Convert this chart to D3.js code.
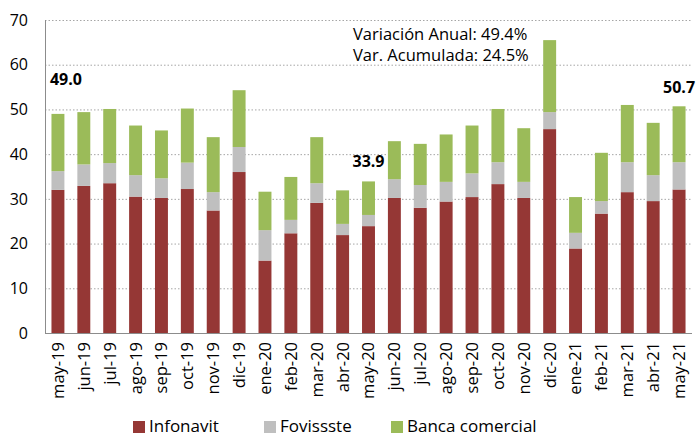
<!DOCTYPE html>
<html>
<head>
<meta charset="utf-8">
<script src="https://cdn.jsdelivr.net/npm/d3@7"></script>
<style>
  body { margin: 0; background: #fff; }
  text { font-family: "Open Sans", sans-serif; fill: #000; }
</style>
</head>
<body>
<div id="chart"></div>
<script>
const months = ["may-19","jun-19","jul-19","ago-19","sep-19","oct-19","nov-19","dic-19",
  "ene-20","feb-20","mar-20","abr-20","may-20","jun-20","jul-20","ago-20","sep-20","oct-20",
  "nov-20","dic-20","ene-21","feb-21","mar-21","abr-21","may-21"];
const infonavit = [32.0,32.9,33.5,30.5,30.2,32.2,27.4,36.0,16.2,22.3,29.1,21.9,23.9,30.2,28.0,29.4,30.4,33.3,30.2,45.6,18.9,26.7,31.5,29.5,32.1];
const fovissste = [4.2,4.8,4.5,4.8,4.4,5.9,4.1,5.6,6.8,3.0,4.4,2.5,2.5,4.2,5.1,4.4,5.3,4.9,3.6,3.8,3.5,2.8,6.7,5.8,6.1];
const banca = [12.8,11.7,12.1,11.1,10.7,12.1,12.3,12.7,8.6,9.6,10.3,7.5,7.5,8.5,9.2,10.6,10.7,11.9,12.0,16.1,8.0,10.8,12.8,11.7,12.5];
const seriesNames = ["Infonavit","Fovissste","Banca comercial"];
const colors = ["#953735","#bfbfbf","#9bbb59"];
const yTicks = [0,10,20,30,40,50,60,70];
const totalLabels = [{m:"may-19", t:"49.0"},{m:"may-20", t:"33.9"},{m:"may-21", t:"50.7"}];
const notes = ["Variación Anual: 49.4%", "Var. Acumulada: 24.5%"];

const W = 696, H = 438;
const margin = {top: 20, right: 4, bottom: 105, left: 45};

const svg = d3.select("#chart").append("svg")
  .attr("width", W).attr("height", H);

const x = d3.scaleBand()
  .domain(months)
  .range([margin.left, W - margin.right])
  .paddingInner(0.5)
  .paddingOuter(0.25);

const y = d3.scaleLinear()
  .domain([0, 70])
  .range([H - margin.bottom, margin.top]);

// gridlines
svg.append("g").selectAll("line")
  .data(yTicks.filter(d => d > 0))
  .enter().append("line")
  .attr("x1", margin.left).attr("x2", W - margin.right)
  .attr("y1", d => y(d) + 0.5).attr("y2", d => y(d) + 0.5)
  .attr("stroke", "#a6a6a6")
  .attr("stroke-dasharray", "1.5,2");

// y labels
svg.append("g").selectAll("text")
  .data(yTicks)
  .enter().append("text")
  .attr("x", 28)
  .attr("y", d => y(d))
  .attr("dy", "0.36em")
  .attr("text-anchor", "end")
  .style("font-size", "16px")
  .text(d => d);

// stacked bars
const rows = months.map((m, i) => ({month: m, Infonavit: infonavit[i], Fovissste: fovissste[i], "Banca comercial": banca[i]}));
const stacked = d3.stack().keys(seriesNames)(rows);

svg.append("g").selectAll("g")
  .data(stacked)
  .enter().append("g")
  .attr("fill", (d, i) => colors[i])
  .selectAll("rect")
  .data(d => d)
  .enter().append("rect")
  .attr("x", d => x(d.data.month))
  .attr("width", x.bandwidth())
  .attr("y", d => y(d[1]))
  .attr("height", d => y(d[0]) - y(d[1]));

// axes lines
svg.append("line")
  .attr("x1", margin.left + 0.5).attr("x2", margin.left + 0.5)
  .attr("y1", y(70)).attr("y2", y(0))
  .attr("stroke", "#8c8c8c");
svg.append("line")
  .attr("x1", margin.left).attr("x2", W - margin.right)
  .attr("y1", y(0) + 0.5).attr("y2", y(0) + 0.5)
  .attr("stroke", "#8c8c8c");

// x labels
svg.append("g").selectAll("text")
  .data(months)
  .enter().append("text")
  .attr("transform", d => `translate(${x(d) + x.bandwidth() / 2},${y(0) + 9}) rotate(-90)`)
  .attr("dy", "0.36em")
  .attr("text-anchor", "end")
  .style("font-size", "16.5px")
  .text(d => d);

// total labels
const labelShift = {"may-19": [8, -29], "may-20": [0, -14], "may-21": [0, -13]};
svg.append("g").selectAll("text")
  .data(totalLabels)
  .enter().append("text")
  .attr("x", d => x(d.m) + x.bandwidth() / 2 + labelShift[d.m][0])
  .attr("y", d => {
    const i = months.indexOf(d.m);
    return y(infonavit[i] + fovissste[i] + banca[i]) + labelShift[d.m][1];
  })
  .attr("text-anchor", "middle")
  .style("font-size", "16px")
  .style("font-weight", "bold")
  .text(d => d.t);

// annotation
svg.append("g").selectAll("text")
  .data(notes)
  .enter().append("text")
  .attr("x", 353)
  .attr("y", (d, i) => 40 + i * 21)
  .style("font-size", "16.5px")
  .text(d => d);

// legend
const legendX = [133, 264, 391];
const lg = svg.append("g").selectAll("g")
  .data(seriesNames)
  .enter().append("g")
  .attr("transform", (d, i) => `translate(${legendX[i]},419)`);
lg.append("rect").attr("y", 2).attr("width", 12).attr("height", 12).attr("fill", (d, i) => colors[i]);
lg.append("text").attr("x", 16).attr("y", 13)
  .style("font-size", "17px").text(d => d);
</script>
</body>
</html>
